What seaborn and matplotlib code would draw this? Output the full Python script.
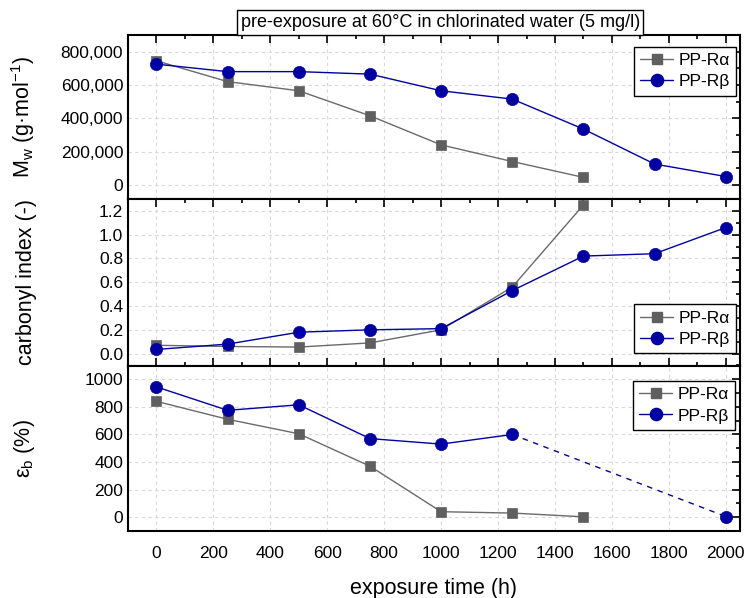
import matplotlib
matplotlib.use("Agg")
import matplotlib.pyplot as plt
import seaborn as sns
import pandas as pd
import numpy as np
from matplotlib.lines import Line2D
from matplotlib.ticker import MultipleLocator, FuncFormatter

sns.set_style("white")
plt.rcParams['font.family'] = ['Liberation Sans', 'DejaVu Sans']
plt.rcParams['mathtext.fontset'] = 'custom'
plt.rcParams['mathtext.rm'] = 'Liberation Sans'
plt.rcParams['mathtext.it'] = 'Liberation Sans:italic'
plt.rcParams['text.color'] = 'black'
plt.rcParams['axes.labelcolor'] = 'black'

# data
t_a = [0, 250, 500, 750, 1000, 1250, 1500]
t_b = [0, 250, 500, 750, 1000, 1250, 1500, 1750, 2000]
mw_a = [745000, 620000, 565000, 415000, 240000, 140000, 45000]
mw_b = [725000, 680000, 680000, 665000, 565000, 515000, 335000, 125000, 50000]
ci_a = [0.07, 0.06, 0.055, 0.09, 0.20, 0.56, 1.25]
ci_b = [0.035, 0.08, 0.18, 0.20, 0.21, 0.53, 0.82, 0.84, 1.06]
t_eb_a = [0, 250, 500, 750, 1000, 1250, 1500]
eb_a = [840, 710, 605, 370, 40, 30, 3]
t_eb_b = [0, 250, 500, 750, 1000, 1250]
eb_b = [945, 775, 815, 570, 530, 600]
t_eb_b_ext = [1250, 2000]
eb_b_ext = [600, 5]

names = ["PP-R\u03b1", "PP-R\u03b2"]
c_a = "#5f5f5f"
c_a_line = "#6a6a6a"
c_b = "#0000a0"

fig = plt.figure(figsize=(7.5, 5.98), dpi=100)
L, R = 128/750, 740/750
def pos(ytop, ybot):
    return [L, 1 - ybot/598, R - L, (ybot - ytop)/598]

ax1 = fig.add_axes(pos(35, 199))
ax2 = fig.add_axes(pos(199, 365.5))
ax3 = fig.add_axes(pos(365.5, 531))

MS_SQ, MS_CI = 7.5, 8.8

def draw(ax, x, y, color, lcolor, marker, ms, ls="-", mk=True):
    df = pd.DataFrame({"x": x, "y": y})
    kw = dict(marker=marker, markersize=ms, markeredgecolor=color,
              markerfacecolor=color, markeredgewidth=0.5) if mk else {}
    sns.lineplot(data=df, x="x", y="y", ax=ax, color=lcolor, lw=1.0,
                 linestyle=ls, zorder=3, legend=False, **kw)

for ax in (ax1, ax2, ax3):
    ax.set_xlim(-100, 2050)

draw(ax1, t_a, mw_a, c_a, c_a_line, "s", MS_SQ)
draw(ax1, t_b, mw_b, c_b, c_b, "o", MS_CI)
draw(ax2, t_a, ci_a, c_a, c_a_line, "s", MS_SQ)
draw(ax2, t_b, ci_b, c_b, c_b, "o", MS_CI)
draw(ax3, t_eb_a, eb_a, c_a, c_a_line, "s", MS_SQ)
draw(ax3, t_eb_b_ext, eb_b_ext, c_b, c_b, "o", MS_CI, ls=(0, (4, 4)), mk=False)
draw(ax3, t_eb_b, eb_b, c_b, c_b, "o", MS_CI)
draw(ax3, [t_eb_b_ext[-1]], [eb_b_ext[-1]], c_b, c_b, "o", MS_CI)

ax1.set_ylim(-85000, 900000)
ax1.yaxis.set_major_locator(MultipleLocator(200000))
ax1.yaxis.set_minor_locator(MultipleLocator(100000))
ax1.yaxis.set_major_formatter(FuncFormatter(lambda v, p: f"{int(v):,}"))
ax2.set_ylim(-0.1, 1.3)
ax2.yaxis.set_major_locator(MultipleLocator(0.2))
ax2.yaxis.set_minor_locator(MultipleLocator(0.1))
ax2.yaxis.set_major_formatter(FuncFormatter(lambda v, p: f"{v:.1f}"))
ax3.set_ylim(-100, 1100)
ax3.yaxis.set_major_locator(MultipleLocator(200))
ax3.yaxis.set_minor_locator(MultipleLocator(100))

for ax in (ax1, ax2, ax3):
    ax.xaxis.set_major_locator(MultipleLocator(200))
    ax.xaxis.set_minor_locator(MultipleLocator(100))
    ax.grid(True, which="major", color="#d8d8d8", ls=(0, (3, 3)), lw=0.8)
    ax.tick_params(which="both", direction="in", top=True, right=True,
                   labelsize=12.5, colors="black", width=1.2)
    ax.tick_params(which="major", length=6)
    ax.tick_params(which="minor", length=3)
    for s in ax.spines.values():
        s.set_linewidth(1.5)
        s.set_color("black")
    ax.set_xlabel("")

for ax in (ax1, ax2):
    ax.tick_params(labelbottom=False)

ax3.tick_params(axis="x", which="both", direction="out", top=True)
ax3.tick_params(axis="x", which="major", pad=5, labelsize=12.5)

ax1.set_ylabel("M$_\\mathregular{w}$ (g\u00b7mol$^\\mathregular{-1}$)", fontsize=15.5)
ax2.set_ylabel("carbonyl index (-)", fontsize=15.5)
ax3.set_ylabel("\u03b5$_\\mathregular{b}$ (%)", fontsize=15.5)
for ax in (ax1, ax2, ax3):
    ax.yaxis.set_label_coords(-0.148, 0.5)
ax3.set_xlabel("exposure time (h)", fontsize=15.5)
ax3.xaxis.set_label_coords(0.5, -0.285)

handles = [Line2D([0], [0], color=c_a_line, lw=1, marker="s", ms=MS_SQ, mec=c_a, mfc=c_a),
           Line2D([0], [0], color=c_b, lw=1, marker="o", ms=MS_CI, mec=c_b, mfc=c_b)]
for ax, loc, anchor in ((ax1, "upper right", (0.9935, 0.927)),
                        (ax2, "lower right", (0.9935, 0.075)),
                        (ax3, "upper right", (0.992, 0.906))):
    lg = ax.legend(handles, names, loc=loc, bbox_to_anchor=anchor, fontsize=12.5,
                   frameon=True, fancybox=False, edgecolor="black", framealpha=1,
                   borderpad=0.35, labelspacing=0.35, handlelength=1.9,
                   handletextpad=0.3, borderaxespad=0.0)
    lg.get_frame().set_linewidth(1.0)

fig.text(0.587, 1 - 22.5/598, "pre-exposure at 60\u00b0C in chlorinated water (5 mg/l)",
         ha="center", va="center", fontsize=13,
         bbox=dict(boxstyle="square,pad=0.2", fc="white", ec="black", lw=1))

fig.savefig("out.png", dpi=100)
